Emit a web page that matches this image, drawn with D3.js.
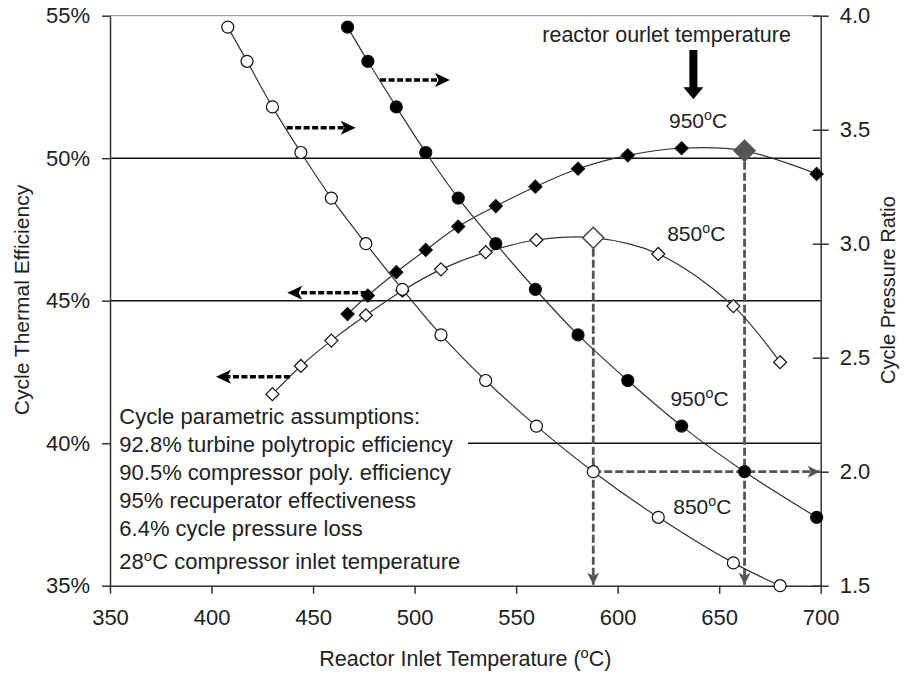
<!DOCTYPE html>
<html>
<head>
<meta charset="utf-8">
<script src="https://cdn.jsdelivr.net/npm/d3@7"></script>
<style>
body { margin: 0; background: #fff; }
svg { display: block; }
text { font-family: "Liberation Sans", Arial, sans-serif; fill: #222; }
</style>
</head>
<body>
<div id="chart"></div>
<script>
const width = 904;
const height = 676;

// reactor inlet temperature (C) and cycle pressure ratio, 850C outlet
const temps850 = [408, 417.5, 430, 444, 459, 476, 494, 513, 535, 560, 588, 620, 657, 680];
const ratio850 = [3.95, 3.8, 3.6, 3.4, 3.2, 3.0, 2.8, 2.6, 2.4, 2.2, 2.0, 1.8, 1.6, 1.5];
// efficiency (%) for 850C outlet
const effTemps850 = [430, 444, 459, 476, 494, 513, 535, 560, 588, 620, 657, 680];
const eff850 = [41.72, 42.71, 43.6, 44.49, 45.35, 46.1, 46.7, 47.13, 47.21, 46.64, 44.81, 42.84];

// 950C outlet
const temps950 = [467, 477, 491, 505.5, 521.5, 540, 559.5, 580.5, 605, 631.5, 662.5, 698];
const ratio950 = [3.95, 3.8, 3.6, 3.4, 3.2, 3.0, 2.8, 2.6, 2.4, 2.2, 2.0, 1.8];
const eff950 = [44.53, 45.18, 46.0, 46.78, 47.6, 48.32, 49.0, 49.63, 50.1, 50.35, 50.26, 49.45];

// optimum points (highlighted)
const optimum = [
    { T: 588, eff: 47.21, ratio: 2.0, filled: false },
    { T: 662.5, eff: 50.26, ratio: 2.0, filled: true }
];

const xTicks = [350, 400, 450, 500, 550, 600, 650, 700];
const effTicks = [35, 40, 45, 50, 55];
const ratioTicks = [1.5, 2.0, 2.5, 3.0, 3.5, 4.0];
const gridEff = [45, 50, 55];

const assumptions = [
    "Cycle parametric assumptions:",
    "92.8% turbine polytropic efficiency",
    "90.5% compressor poly. efficiency",
    "95% recuperator effectiveness",
    "6.4% cycle pressure loss"
];

// dashed arrows: which axis the curves belong to
const arrowsRight = [{ t0: 483, t1: 517.4, ratio: 3.718 }, { t0: 437, t1: 471, ratio: 3.509 }];
const arrowsLeft = [{ t0: 476.4, t1: 437.3, eff: 45.28 }, { t0: 438.6, t1: 402.2, eff: 42.33 }];

const tempLabels = [
    { T: 639.6, eff: 51.06, text: "950" },
    { T: 638.7, eff: 47.1, text: "850" },
    { T: 640.3, eff: 41.3, text: "950" },
    { T: 641.7, eff: 37.52, text: "850" }
];

const x = d3.scaleLinear([350, 700], [110, 820.7]);
const yEff = d3.scaleLinear([35, 55], [585.7, 15.7]);
const yPR = d3.scaleLinear([1.5, 4.0], [585.7, 15.7]);

const svg = d3.select("#chart")
    .append("svg")
    .attr("width", width)
    .attr("height", height)
    .attr("viewBox", [0, 0, width, height]);

// arrow head drawn as a path at the end point, pointing along (dx, dy)
const head = (g, x2, y2, dx, dy, w, h, fill) => {
    const a = Math.atan2(dy, dx) * 180 / Math.PI;
    g.append("path")
        .attr("transform", `translate(${x2},${y2}) rotate(${a})`)
        .attr("d", `M${-w},${-h}L0,0L${-w},${h}L${-w * 0.75},0Z`)
        .attr("fill", fill)
        .attr("stroke", "none");
};

// degree text helper: before + superscript o + after
const degText = (sel, before, after, size) => {
    sel.append("tspan").text(before);
    sel.append("tspan").attr("font-size", size * 0.68).attr("dy", -size * 0.38).text("o");
    sel.append("tspan").attr("dy", size * 0.38).text(after);
};

// gridlines
svg.append("g")
    .selectAll("line")
    .data(gridEff)
    .join("line")
    .attr("x1", x(350))
    .attr("x2", x(700))
    .attr("y1", d => yEff(d))
    .attr("y2", d => yEff(d))
    .attr("stroke", d => d === 55 ? "#888" : "#111")
    .attr("stroke-width", d => d === 55 ? 1 : 1.5);

svg.append("line")
    .attr("x1", x(526.3))
    .attr("x2", x(700))
    .attr("y1", yEff(40))
    .attr("y2", yEff(40))
    .attr("stroke", "#111")
    .attr("stroke-width", 1.5);

// axes
const styleAxis = g => {
    g.attr("font-size", 22).attr("font-family", null);
    g.select(".domain").attr("stroke", "#333").attr("stroke-width", 1.5);
    g.selectAll(".tick line").attr("stroke", "#333").attr("stroke-width", 1.5);
    g.selectAll(".tick text").attr("fill", "#222");
};

svg.append("g")
    .attr("transform", `translate(0,${yEff(35)})`)
    .call(d3.axisBottom(x).tickValues(xTicks).tickSize(8).tickPadding(16).tickSizeOuter(0))
    .call(styleAxis);

svg.append("g")
    .attr("transform", `translate(${x(350)},0)`)
    .call(d3.axisLeft(yEff).tickValues(effTicks).tickFormat(d => d + "%").tickSize(8).tickPadding(12).tickSizeOuter(0))
    .call(styleAxis);

svg.append("g")
    .attr("transform", `translate(${x(700)},0)`)
    .call(d3.axisRight(yPR).tickValues(ratioTicks).tickFormat(d3.format(".1f")).tickSize(8).tickPadding(11).tickSizeOuter(0))
    .call(styleAxis)
    .call(g => g.selectAll(".tick line").attr("x1", -8));

// axis titles
svg.append("text")
    .attr("x", x(525))
    .attr("y", 666)
    .attr("text-anchor", "middle")
    .attr("font-size", 21.5)
    .call(degText, "Reactor Inlet Temperature (", "C)", 21.5);

svg.append("text")
    .attr("transform", `translate(29,300) rotate(-90)`)
    .attr("text-anchor", "middle")
    .attr("font-size", 21)
    .text("Cycle Thermal Efficiency");

svg.append("text")
    .attr("transform", `translate(895,290) rotate(-90)`)
    .attr("text-anchor", "middle")
    .attr("font-size", 20)
    .text("Cycle Pressure Ratio");

// gray dashed guide lines from the optimum points
const guides = svg.append("g");
const guideLine = (x1, y1, x2, y2) => {
    guides.append("line")
        .attr("x1", x1).attr("y1", y1)
        .attr("x2", x2).attr("y2", y2)
        .attr("stroke", "#555")
        .attr("stroke-width", 2.8)
        .attr("stroke-dasharray", "8,3");
    head(guides, x2, y2, x2 - x1, y2 - y1, 12, 6, "#555");
};
optimum.forEach(p => {
    guideLine(x(p.T), yEff(p.eff), x(p.T), yEff(35) - 1);
});
guideLine(x(optimum[0].T), yPR(optimum[0].ratio), x(700) - 1, yPR(optimum[0].ratio));

// curves
const lineGen = d3.line().curve(d3.curveCatmullRom.alpha(0.5));
const drawCurve = (xs, ys, yScale) => {
    svg.append("path")
        .datum(xs.map((t, i) => [x(t), yScale(ys[i])]))
        .attr("fill", "none")
        .attr("stroke", "#333")
        .attr("stroke-width", 1.2)
        .attr("d", lineGen);
};
drawCurve(temps850, ratio850, yPR);
drawCurve(temps950, ratio950, yPR);
drawCurve(effTemps850, eff850, yEff);
drawCurve(temps950, eff950, yEff);

// markers
const diamond = s => `M0,${-s}L${s},0L0,${s}L${-s},0Z`;

const drawCircles = (xs, ys, fill) => {
    svg.append("g")
        .selectAll("circle")
        .data(xs.map((t, i) => [t, ys[i]]))
        .join("circle")
        .attr("cx", d => x(d[0]))
        .attr("cy", d => yPR(d[1]))
        .attr("r", 6)
        .attr("fill", fill)
        .attr("stroke", "#111")
        .attr("stroke-width", 1.2);
};
const drawDiamonds = (xs, ys, fill) => {
    svg.append("g")
        .selectAll("path")
        .data(xs.map((t, i) => [t, ys[i]]))
        .join("path")
        .attr("transform", d => `translate(${x(d[0])},${yEff(d[1])})`)
        .attr("d", diamond(6.5))
        .attr("fill", fill)
        .attr("stroke", "#111")
        .attr("stroke-width", 1.2);
};
drawDiamonds(effTemps850, eff850, "#fff");
drawDiamonds(temps950, eff950, "#000");
drawCircles(temps850, ratio850, "#fff");
drawCircles(temps950, ratio950, "#000");

// highlighted optimum diamonds
svg.append("g")
    .selectAll("path")
    .data(optimum)
    .join("path")
    .attr("transform", d => `translate(${x(d.T)},${yEff(d.eff)})`)
    .attr("d", diamond(10.5))
    .attr("fill", d => d.filled ? "#555" : "#fff")
    .attr("stroke", d => d.filled ? "#555" : "#444")
    .attr("stroke-width", 1.5);

// black dashed arrows
const arrows = svg.append("g");
const blackArrow = (x1, x2, yy) => {
    const dir = Math.sign(x2 - x1);
    arrows.append("line")
        .attr("x1", x1).attr("x2", x2 - dir * 10)
        .attr("y1", yy).attr("y2", yy)
        .attr("stroke", "#000")
        .attr("stroke-width", 3.5)
        .attr("stroke-dasharray", "6,2.5");
    head(arrows, x2, yy, x2 - x1, 0, 15, 7, "#000");
};
arrowsRight.forEach(a => blackArrow(x(a.t0), x(a.t1), yPR(a.ratio)));
arrowsLeft.forEach(a => blackArrow(x(a.t0), x(a.t1), yEff(a.eff)));

// reactor outlet temperature arrow
const bx = x(637.3);
const bTop = yEff(53.8);
const bTip = yEff(52.07);
svg.append("path")
    .attr("d", `M${bx - 4},${bTop}L${bx + 4},${bTop}L${bx + 4},${bTip - 12}L${bx + 10},${bTip - 12}L${bx},${bTip}L${bx - 10},${bTip - 12}L${bx - 4},${bTip - 12}Z`)
    .attr("fill", "#000");

svg.append("text")
    .attr("x", x(624.1))
    .attr("y", yEff(54.09))
    .attr("text-anchor", "middle")
    .attr("font-size", 21.5)
    .text("reactor ourlet temperature");

tempLabels.forEach(l => {
    svg.append("text")
        .attr("x", x(l.T))
        .attr("y", yEff(l.eff))
        .attr("text-anchor", "middle")
        .attr("font-size", 21)
        .call(degText, l.text, "C", 21);
});

// assumptions box
const box = svg.append("text")
    .attr("x", x(354.6))
    .attr("y", yEff(40.67))
    .attr("font-size", 22);
assumptions.forEach((s, i) => {
    box.append("tspan")
        .attr("x", x(354.6))
        .attr("dy", i === 0 ? 0 : 28)
        .text(s);
});
const lastLine = svg.append("text")
    .attr("x", x(354.6))
    .attr("y", yEff(40.67) + 4 * 28 + 33)
    .attr("font-size", 22);
degText(lastLine, "28", "C compressor inlet temperature", 22);
</script>
</body>
</html>
